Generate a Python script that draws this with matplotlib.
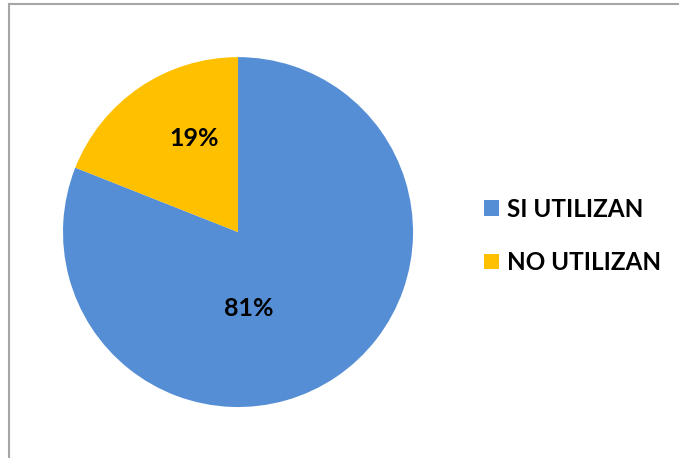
import matplotlib.pyplot as plt
from matplotlib.lines import Line2D

labels = ['SI UTILIZAN', 'NO UTILIZAN']
values = [81, 19]
colors = ['#558ED5', '#FFC000']

plt.rcParams['font.family'] = ['Lato', 'DejaVu Sans']

fig = plt.figure(figsize=(6.79, 4.58), dpi=100)
ax = fig.add_axes([0.0928, 0.1113, 0.5155, 0.764])

wedges, texts = ax.pie(values, colors=colors, startangle=90, counterclock=False,
                       wedgeprops={'linewidth': 0})
ax.set_aspect('auto')
ax.set_xlim(-1, 1)
ax.set_ylim(-1, 1)

# percent labels
ax.text(0.063, -0.435, '81%', ha='center', va='center', fontsize=18, fontweight='bold')
ax.text(-0.25, 0.535, '19%', ha='center', va='center', fontsize=18, fontweight='bold')

fig.legend(wedges, labels, loc='center left', bbox_to_anchor=(0.681, 0.485),
           frameon=False, prop={'weight': 'bold', 'size': 17.5},
           handlelength=0.6, handleheight=0.6, handletextpad=0.35, labelspacing=1.25)

# chart border (top and left edges visible)
fig.add_artist(Line2D([9 / 679, 1], [1 - 4 / 458, 1 - 4 / 458], color='#A6A6A6', linewidth=1.5))
fig.add_artist(Line2D([9 / 679, 9 / 679], [0, 1 - 4 / 458], color='#A6A6A6', linewidth=1.5))

fig.savefig('out.png', dpi=100)
